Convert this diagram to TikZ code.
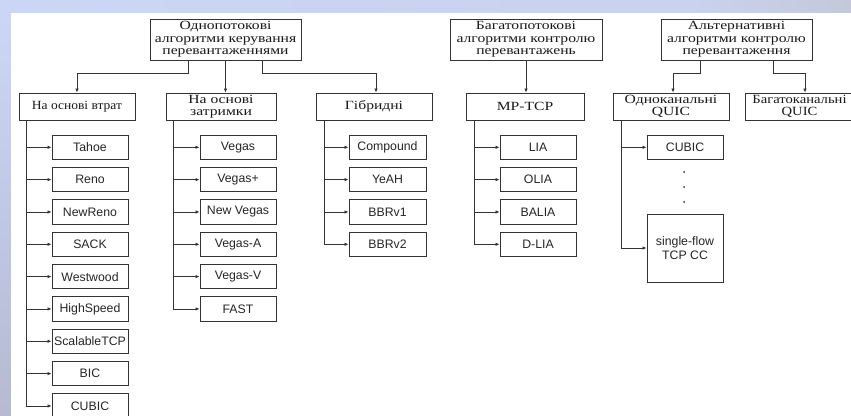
\documentclass[tikz,border=0pt]{standalone}
\usepackage{fontspec}
\setmainfont{Liberation Serif}[FakeStretch=1.25]
\newfontfamily\serifn{Liberation Serif}[FakeStretch=1.08]
\newfontfamily\serifm{Liberation Serif}[FakeStretch=1.17]
\newfontfamily\arialf{Liberation Sans}
\usetikzlibrary{arrows.meta,calc}
\definecolor{bgA}{HTML}{CBD6F6}
\definecolor{bgB}{HTML}{C4C8DA}
\definecolor{bgL}{HTML}{B6BAD2}
\definecolor{ln}{HTML}{333333}
\tikzset{
  cat/.style={draw=ln,line width=1pt,align=center,inner sep=1pt,text=black!90,
     font=\fontsize{12.5}{12.5}\selectfont},
  top/.style={cat,minimum width=151pt,minimum height=41pt},
  mid/.style={cat,minimum width=116pt,minimum height=27pt},
  leaf/.style={draw=ln,line width=1pt,minimum width=76pt,minimum height=24.5pt,text=black!85,
     inner sep=0.5pt,font=\arialf\fontsize{12.3}{13.5}\selectfont,align=center},
  arr/.style={draw=ln,line width=0.85pt,-{Latex[length=4pt,width=3.6pt]}},
}
\begin{document}
\begin{tikzpicture}[x=1pt,y=-1pt]
\useasboundingbox (0,0) rectangle (851,415);
\clip (0,0) rectangle (851,415);
% background frame
\shade[left color=bgA,right color=bgA!70!bgB] (0,0) rectangle (700,13);
\shade[left color=bgA!70!bgB,right color=bgB] (700,0) rectangle (851,13);
\shade[top color=bgA,bottom color=bgL] (0,13) rectangle (11,415);
\fill[white] (11,13) rectangle (851,415);

% top boxes
\node[top] (T1) at (225.5,39.5) {Однопотокові\\алгоритми керування\\перевантаженнями};
\node[top,minimum width=152pt] (T2) at (526,39.5) {Багатопотокові\\алгоритми контролю\\перевантажень};
\node[top] (T3) at (736.5,39.5) {Альтернативні\\алгоритми контролю\\перевантаження};

% second level
\node[mid,font=\serifn\fontsize{12.5}{12.5}\selectfont] (L1) at (77,106.5) {На основі втрат};
\node[mid,minimum width=110pt] (L2) at (221,106.5) {На основі\\затримки};
\node[mid] (L3) at (374,106.5) {Гібридні};
\node[mid,minimum width=118pt] (M) at (525,106.5) {MP-TCP};
\node[mid] (Q1) at (671,106.5) {Одноканальні\\QUIC};
\node[mid,minimum width=109pt,font=\serifm\fontsize{12.5}{12.5}\selectfont] (Q2) at (799.5,106.5) {Багатоканальні\\QUIC};

\draw[arr] ([xshift=-37.5pt]T1.south) -- ++(0,13) -| (L1.north);
\draw[arr] (T1.south) -- (T1.south |- L2.north);
\draw[arr] ([xshift=36.5pt]T1.south) -- ++(0,13) -| ([xshift=2pt]L3.north);
\draw[arr] (T2.south) -- (T2.south |- M.north);
\draw[arr] ([xshift=-36.5pt]T3.south) -- ++(0,13) -| ([xshift=2pt]Q1.north);
\draw[arr] ([xshift=36.5pt]T3.south) -- ++(0,13) -| ([xshift=5.5pt]Q2.north);

% leaves: loss-based
\foreach \t [count=\i from 0] in {Tahoe,Reno,NewReno,SACK,Westwood,HighSpeed,ScalableTCP,BIC,CUBIC}{
  \node[leaf] (a\i) at (90,147.3+32.33*\i) {\t};
  \draw[arr] ([xshift=8pt]L1.south west) |- (a\i.west);
}
% delay-based
\foreach \t [count=\i from 0] in {Vegas,Vegas+,New Vegas,Vegas-A,Vegas-V,FAST}{
  \node[leaf] (b\i) at (238,147.3+32.33*\i) {\t};
  \draw[arr] ([xshift=8pt]L2.south west) |- (b\i.west);
}
% hybrid
\foreach \t [count=\i from 0] in {Compound,YeAH,BBRv1,BBRv2}{
  \node[leaf,minimum width=77pt] (c\i) at (387.5,147.3+32.33*\i) {\t};
  \draw[arr] ([xshift=9pt]L3.south west) |- (c\i.west);
}
% MP-TCP
\foreach \t [count=\i from 0] in {LIA,OLIA,BALIA,D-LIA}{
  \node[leaf] (d\i) at (538,147.3+32.33*\i) {\t};
  \draw[arr] ([xshift=9pt]M.south west) |- (d\i.west);
}
% QUIC
\node[leaf] (e0) at (685,147.3) {CUBIC};
\node[leaf,minimum height=68pt] (e1) at (685,248) {single-flow\\TCP CC};
\draw[arr] ([xshift=9pt]Q1.south west) |- (e0.west);
\draw[arr] ([xshift=9pt]Q1.south west) |- (e1.west);
\foreach \y in {172,187,202} \fill[ln] (684,\y) circle (1pt);
\end{tikzpicture}
\end{document}
